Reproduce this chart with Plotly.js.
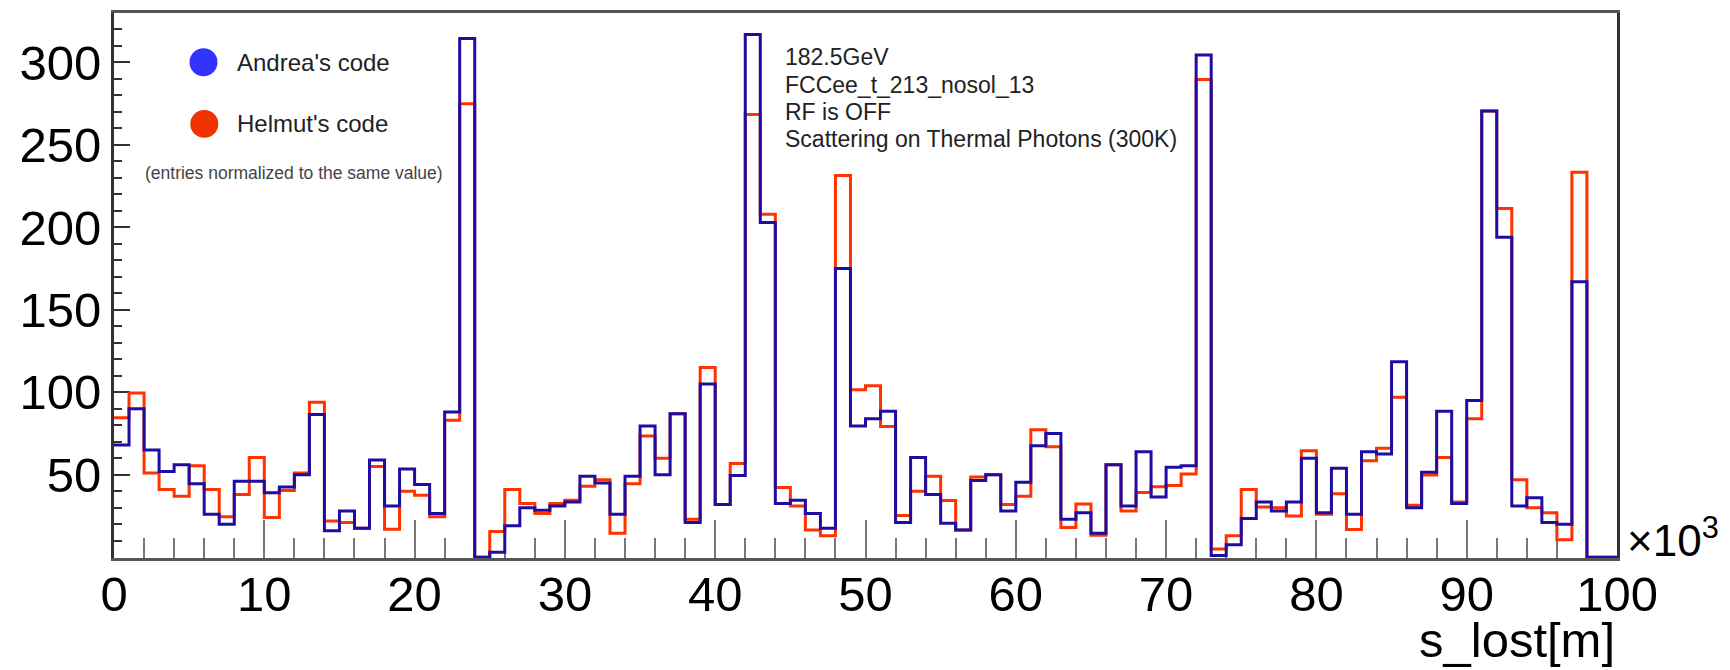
<!DOCTYPE html>
<html>
<head>
<meta charset="utf-8">
<script src="https://cdn.plot.ly/plotly-3.0.1.min.js"></script>
<style>
  html, body { margin: 0; padding: 0; background: #fff; }
  #chart { width: 1730px; height: 670px; }
</style>
</head>
<body>
<div id="chart"></div>
<script>
// Bin lower edges (in units of 10^3 m); 100 bins from 0 to 100
const binEdges = [0,1,2,3,4,5,6,7,8,9,10,11,12,13,14,15,16,17,18,19,20,21,22,23,24,25,26,27,28,29,30,31,32,33,34,35,36,37,38,39,40,41,42,43,44,45,46,47,48,49,50,51,52,53,54,55,56,57,58,59,60,61,62,63,64,65,66,67,68,69,70,71,72,73,74,75,76,77,78,79,80,81,82,83,84,85,86,87,88,89,90,91,92,93,94,95,96,97,98,99,100];

// Andrea's code (blue)
const andrea = [68,90,65,52,56,44.5,26,20,46,46,
  39,42.5,50,86.5,16,28,17.5,59,31,53.5,
  44,26.5,88,314.5,0,3,19,30,28.5,31,
  33.5,49,45,26,49,79.5,50,87,21,105,
  32,49.5,317,203,32.5,34.5,26.5,17.5,175,79.5,
  84,88.5,21,60.5,38,20.5,16.5,46.5,50,28,
  45.5,67.5,75,23,27,14.5,56,31,64,36.5,
  54.5,55.5,304.5,1,7.5,23.5,33.5,28,33.5,60,
  27,54,26,64,62.5,118.5,30,51.5,88.5,32.5,
  95,270.5,194,31,36,21,20,167,0,0];

// Helmut's code (red)
const helmut = [84.5,99.5,51,41,37,55.5,41,24.5,38,60.5,
  24,40.5,51,94,22,21,17.5,55,17,40,
  37.5,24.5,83,275,0,15.5,41,32.5,26.5,32.5,
  34.5,43,47,14.5,44.5,73.5,60,87,23,115,
  32,56.8,268.5,208,42.3,31,16.5,13,231.5,101.5,
  104,79.3,25.3,40,49,34.3,16.5,48.6,50,32,
  37,77.3,67,18,32.3,13.3,56,28,39.2,42.7,
  43.5,50.4,289.7,5,13,41,30.5,30,25,64.5,
  26,38.5,16.8,58.4,66,97,31.5,49.8,60.5,33.5,
  84,270.5,211.5,47,30,27,10.5,233.5,0,0];

const xTickVals = [0,10,20,30,40,50,60,70,80,90,100];
const yTickVals = [50,100,150,200,250,300];

const infoLines = ["182.5GeV", "FCCee_t_213_nosol_13", "RF is OFF", "Scattering on Thermal Photons (300K)"];
const legendNames = ["Andrea's code", "Helmut's code"];

// step outline: repeat last bin content at the upper edge
function stepY(vals) { return vals.concat([vals[vals.length - 1]]); }

const FONT = "Liberation Sans, Arial, Helvetica, sans-serif";
const BLUE = "#1f0ca0";
const RED = "#ff3300";

const traces = [
  { x: binEdges, y: stepY(helmut), type: "scatter", mode: "lines",
    line: { shape: "hv", color: RED, width: 3 }, name: legendNames[1], hoverinfo: "skip" },
  { x: binEdges, y: stepY(andrea), type: "scatter", mode: "lines",
    line: { shape: "hv", color: BLUE, width: 3 }, name: legendNames[0], hoverinfo: "skip" }
];

const infoY = [0.9189, 0.8681, 0.8191, 0.7685];
const annotations = infoLines.map((t, i) => ({
  text: t, xref: "paper", yref: "paper", x: 0.4451, y: infoY[i],
  xanchor: "left", yanchor: "middle", showarrow: false,
  font: { family: FONT, size: 23, color: "#222" }
}));
annotations.push(
  { text: legendNames[0], xref: "paper", yref: "paper", x: 0.0805, y: 0.9096,
    xanchor: "left", yanchor: "middle", showarrow: false, font: { family: FONT, size: 24, color: "#222" } },
  { text: legendNames[1], xref: "paper", yref: "paper", x: 0.0805, y: 0.7965,
    xanchor: "left", yanchor: "middle", showarrow: false, font: { family: FONT, size: 24, color: "#222" } },
  { text: "(entries normalized to the same value)", xref: "paper", yref: "paper", x: 0.0191, y: 0.7072,
    xanchor: "left", yanchor: "middle", showarrow: false, font: { family: FONT, size: 17.5, color: "#444" } },
  { text: "×10<sup>3</sup>", xref: "paper", yref: "paper", x: 1.0053, y: 0,
    xanchor: "left", yanchor: "bottom", yshift: -9, showarrow: false, font: { family: FONT, size: 44, color: "#000" } },
  { text: "s_lost[m]", xref: "paper", yref: "paper", x: 1, y: -0.1512,
    xanchor: "right", yanchor: "middle", showarrow: false, font: { family: FONT, size: 49, color: "#000" } }
);

const shapes = [
  { type: "circle", xref: "paper", yref: "paper", x0: 0.05023, x1: 0.06886, y0: 0.8840, y1: 0.9353,
    fillcolor: "#3333ff", line: { width: 0 } },
  { type: "circle", xref: "paper", yref: "paper", x0: 0.05077, x1: 0.06940, y0: 0.7709, y1: 0.8222,
    fillcolor: "#ee3300", line: { width: 0 } }
];

const layout = {
  width: 1730, height: 670,
  margin: { l: 114, r: 113, t: 13, b: 112, pad: 0 },
  paper_bgcolor: "#fff", plot_bgcolor: "#fff",
  showlegend: false,
  font: { family: FONT, color: "#000" },
  xaxis: {
    range: [0, 100], tickvals: xTickVals, ticktext: xTickVals.map(String),
    ticks: "inside", ticklen: 38, tickwidth: 2, tickcolor: "#777",
    minor: { dtick: 2, tick0: 0, ticks: "inside", ticklen: 20, tickwidth: 2, tickcolor: "#777" },
    showline: true, linecolor: "#555", linewidth: 3, mirror: true,
    showgrid: false, zeroline: false, layer: "below traces",
    ticklabelstandoff: -9,
    tickfont: { family: FONT, size: 49, color: "#000" }
  },
  yaxis: {
    range: [-0.5, 330], tickvals: yTickVals, ticktext: yTickVals.map(String),
    ticks: "inside", ticklen: 16, tickwidth: 2, tickcolor: "#333",
    minor: { dtick: 10, tick0: 0, ticks: "inside", ticklen: 8, tickwidth: 2, tickcolor: "#333" },
    showline: true, linecolor: "#333", linewidth: 3, mirror: true,
    showgrid: false, zeroline: false, layer: "below traces",
    tickfont: { family: FONT, size: 49, color: "#000" }
  },
  annotations: annotations,
  shapes: shapes
};

Plotly.newPlot("chart", traces, layout, { staticPlot: true, displayModeBar: false });
</script>
</body>
</html>
